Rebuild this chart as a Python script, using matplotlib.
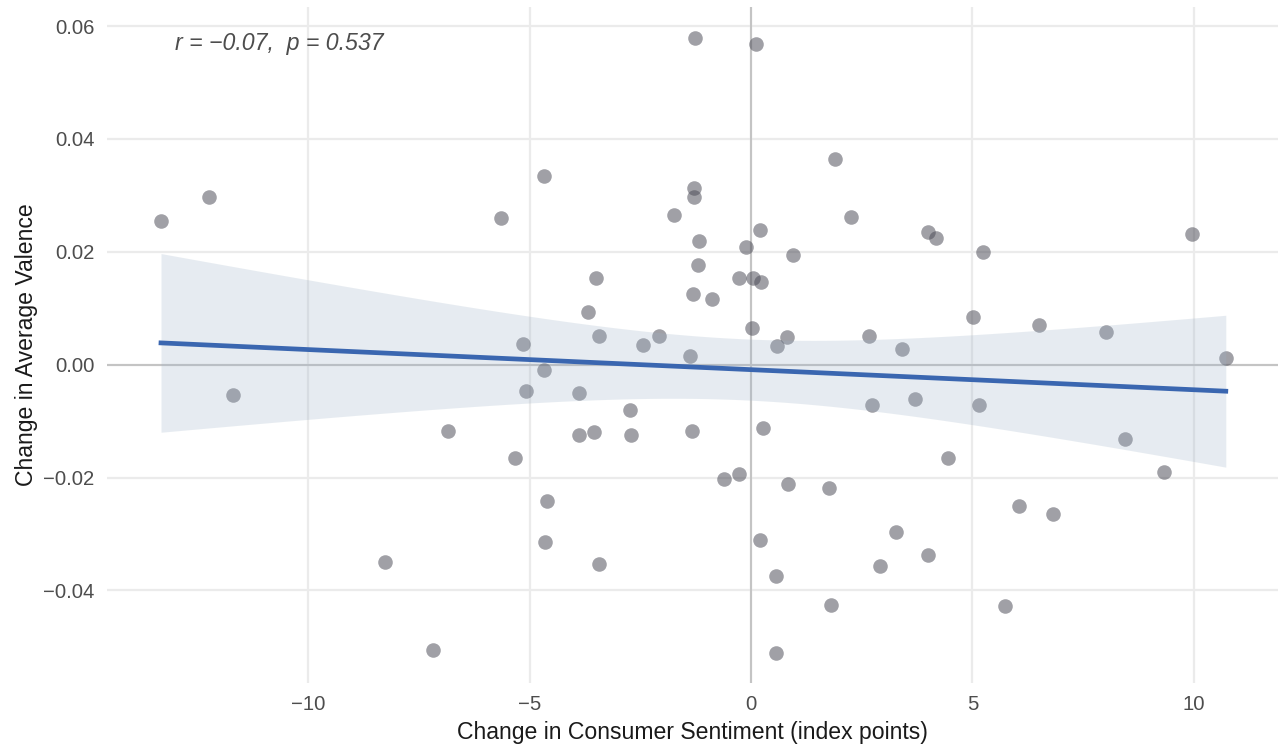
import numpy as np
import matplotlib
matplotlib.use("Agg")
import matplotlib.pyplot as plt

plt.rcParams['font.family'] = ['Liberation Sans', 'DejaVu Sans']

# change in consumer sentiment (index points)
sentiment = [-13.32, -12.23, -11.69, -8.26, -7.18, -6.84, -5.64, -5.33, -5.15, -5.08,
             -4.67, -4.67, -4.60, -4.65, -3.88, -3.88, -3.54, -3.68, -3.50, -3.43,
             -3.43, -2.73, -2.71, -2.44, -2.08, -1.74, -1.33, -1.38, -1.26, -1.29,
             -1.29, -1.20, -1.17, -1.31, -0.88, -0.61, -0.27, -0.27, -0.11, 0.05,
             0.23, 0.02, 0.11, 0.20, 0.27, 0.20, 0.56, 0.56, 0.59, 0.81,
             0.84, 0.95, 1.76, 1.81, 1.90, 2.26, 2.66, 2.73, 2.91, 3.27,
             3.41, 3.70, 4.00, 4.18, 4.00, 4.45, 5.01, 5.15, 5.24, 5.73,
             6.05, 6.50, 6.82, 8.01, 8.44, 9.32, 9.95, 10.72]

# change in average valence
valence = [0.0255, 0.0297, -0.0053, -0.0350, -0.0506, -0.0117, 0.0260, -0.0166, 0.0037, -0.0046,
           0.0335, -0.0009, -0.0242, -0.0315, -0.0050, -0.0124, -0.0119, 0.0094, 0.0154, 0.0051,
           -0.0354, -0.0081, -0.0124, 0.0035, 0.0051, 0.0265, -0.0117, 0.0016, 0.0579, 0.0313,
           0.0297, 0.0177, 0.0219, 0.0126, 0.0117, -0.0202, -0.0193, 0.0154, 0.0209, 0.0154,
           0.0147, 0.0065, 0.0568, 0.0239, -0.0113, -0.0310, -0.0375, -0.0510, 0.0034, 0.0050,
           -0.0211, 0.0195, -0.0219, -0.0425, 0.0365, 0.0262, 0.0051, -0.0071, -0.0356, -0.0296,
           0.0027, -0.0060, 0.0235, 0.0225, -0.0338, -0.0165, 0.0085, -0.0071, 0.0200, -0.0427,
           -0.0251, 0.0071, -0.0264, 0.0058, -0.0131, -0.0191, 0.0232, 0.0012]

x_ticks = [-10, -5, 0, 5, 10]
y_ticks = [-0.04, -0.02, 0.00, 0.02, 0.04, 0.06]
annotation = "r = \u22120.07,  p = 0.537"

x = np.array(sentiment)
y = np.array(valence)

# linear fit with 95% confidence band
n = len(x)
slope, intercept = np.polyfit(x, y, 1)
resid = y - (slope * x + intercept)
s = np.sqrt(np.sum(resid ** 2) / (n - 2))
sxx = np.sum((x - x.mean()) ** 2)
xs = np.linspace(x.min(), x.max(), 200)
ys = slope * xs + intercept
se = s * np.sqrt(1 / n + (xs - x.mean()) ** 2 / sxx)
t_crit = 1.99

fig = plt.figure(figsize=(12.81, 7.47), dpi=100)
ax = fig.add_axes([0.0835, 0.0857, 0.9142, 0.905])

ax.axhline(0, color='#c4c4c4', lw=1.5, zorder=1)
ax.axvline(0, color='#c4c4c4', lw=1.5, zorder=1)

ax.scatter(x, y, s=110, color='#4c4c57', alpha=0.53, linewidths=0, zorder=2)
ax.fill_between(xs, ys - t_crit * se, ys + t_crit * se, color='#9fb3c8',
                alpha=0.25, linewidth=0, zorder=3)
ax.plot(xs, ys, color='#3a66b0', lw=3.4, zorder=4)

ax.text(-13.0, 0.057, annotation, fontsize=16.7, style='italic',
        color='#4d4d4d', ha='left', va='center')

ax.set_xlim(-14.54, 11.9)
ax.set_ylim(-0.0564, 0.0634)
ax.set_xticks(x_ticks)
ax.set_yticks(y_ticks)
ax.set_xticklabels(['\u221210', '\u22125', '0', '5', '10'])
ax.set_yticklabels(['\u22120.04', '\u22120.02', '0.00', '0.02', '0.04', '0.06'])
ax.grid(True, color='#ebebeb', lw=1.6, zorder=0)
ax.set_axisbelow(True)
ax.tick_params(length=0, labelsize=14.6, labelcolor='#4d4d4d', pad=9)
for sp in ax.spines.values():
    sp.set_visible(False)

ax.set_xlabel('Change in Consumer Sentiment (index points)', fontsize=16.6,
              color='#1a1a1a', labelpad=5)
ax.set_ylabel('Change in Average Valence', fontsize=16.6, color='#1a1a1a', labelpad=4)

fig.savefig('out.png', dpi=100, facecolor='white')
